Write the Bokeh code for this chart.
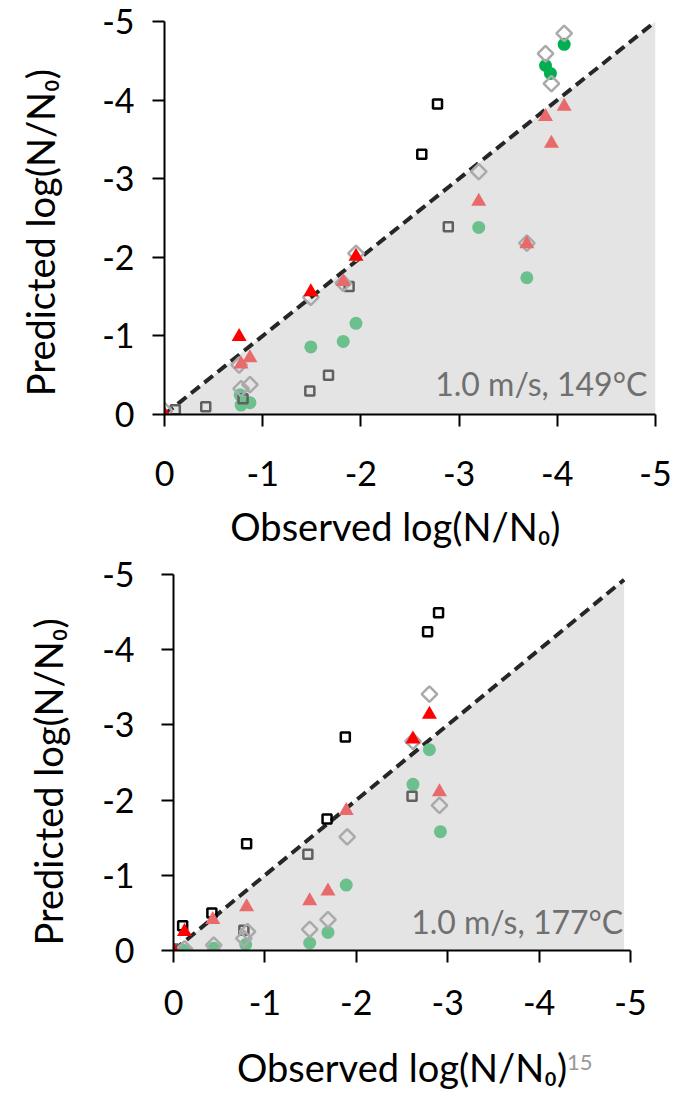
from bokeh.plotting import figure
from bokeh.layouts import column, row
from bokeh.models import Range1d, FixedTicker, Label, Div
from bokeh.embed import file_html
from bokeh.resources import INLINE

TICKS = [0, -1, -2, -3, -4, -5]
TICK_TEXT = ["0", "-1", "-2", "-3", "-4", "-5"]
NB = "\u00a0"
X_TITLE = "Observed log(N/N\u2080)"
Y_TITLE = "Predicted log(N/N\u2080)"

# ---------- Panel A: 1.0 m/s, 149 °C ----------
a_label = "1.0 m/s,  149\u00b0C"
a_diag = [0, -5]
a_blacksq_x = [-2.62, -2.78]
a_blacksq_y = [-3.31, -3.95]
a_graysq_x = [-0.11, -0.42, -0.80, -1.48, -1.67, -1.88, -2.89]
a_graysq_y = [-0.06, -0.10, -0.20, -0.30, -0.50, -1.63, -2.39]
a_diam_x = [0.0, -0.76, -0.78, -0.87, -1.49, -1.82, -1.95, -3.20, -3.69, -3.88, -3.94, -4.07]
a_diam_y = [-0.05, -0.63, -0.33, -0.38, -1.49, -1.67, -2.05, -3.09, -2.18, -4.59, -4.21, -4.85]
a_green_x = [-3.88, -3.93, -4.07]
a_green_y = [-4.44, -4.34, -4.71]
a_pgreen_x = [-0.77, -0.78, -0.87, -1.49, -1.82, -1.95, -3.20, -3.69]
a_pgreen_y = [-0.25, -0.12, -0.15, -0.86, -0.93, -1.16, -2.38, -1.74]
a_red_x = [0.0, -0.76, -1.49, -1.95]
a_red_y = [0.0, -0.99, -1.56, -2.01]
a_salmon_x = [-0.78, -0.87, -1.82, -3.20, -3.69, -3.88, -3.94, -4.07]
a_salmon_y = [-0.64, -0.72, -1.69, -2.71, -2.17, -3.79, -3.45, -3.92]

# ---------- Panel B: 1.0 m/s, 177 °C ----------
b_label = "1.0 m/s,  177\u00b0C"
b_diag = [0, -4.93]
b_blacksq_x = [-0.10, -0.42, -0.80, -1.68, -1.88, -2.78, -2.90]
b_blacksq_y = [-0.33, -0.50, -1.42, -1.75, -2.84, -4.24, -4.49]
b_graysq_x = [0.0, -0.77, -1.47, -2.61]
b_graysq_y = [-0.02, -0.27, -1.28, -2.05]
b_diam_x = [-0.12, -0.44, -0.77, -0.81, -1.49, -1.69, -1.90, -2.62, -2.80, -2.91]
b_diam_y = [-0.02, -0.07, -0.16, -0.25, -0.28, -0.41, -1.51, -2.78, -3.41, -1.93]
b_pgreen_x = [-0.12, -0.44, -0.79, -1.49, -1.69, -1.89, -2.62, -2.80, -2.92]
b_pgreen_y = [0.0, -0.03, -0.08, -0.10, -0.24, -0.87, -2.21, -2.67, -1.58]
b_red_x = [0.0, -0.12, -2.62, -2.80]
b_red_y = [0.0, -0.25, -2.81, -3.14]
b_salmon_x = [-0.43, -0.80, -1.49, -1.69, -1.89, -2.91]
b_salmon_y = [-0.41, -0.58, -0.66, -0.79, -1.86, -2.11]
footnote = "15"

FONT = "Lato"
FS = "34px"
TFS = "38px"


def make_panel(height, borders, diag, label_text, label_pos, series,
               ylab_standoff, ytitle_standoff, xlab_standoff, xtitle_standoff,
               xtitle, ytitle):
    top, bottom, left, right = borders
    p = figure(width=685, height=height, x_range=Range1d(0, -5), y_range=Range1d(0, -5),
               output_backend="svg", toolbar_location=None,
               min_border_top=top, min_border_bottom=bottom,
               min_border_left=left, min_border_right=right)
    p.grid.visible = False
    p.outline_line_color = None
    p.background_fill_color = "white"
    p.border_fill_color = "white"

    # shaded region below identity line
    p.patch([diag[0], diag[1], diag[1]], [diag[0], diag[1], diag[0]],
            fill_color="#e4e4e4", line_color=None)
    p.line(diag, diag, line_color="#262626", line_width=4, line_dash="11 6")

    (bsx, bsy, gsx, gsy, dx, dy, grx, gry, pgx, pgy, rx, ry, sx, sy) = series
    if pgx:
        p.scatter(pgx, pgy, marker="circle", size=13, fill_color="#6cc08e", line_color=None)
    if grx:
        p.scatter(grx, gry, marker="circle", size=13, fill_color="#00b050", line_color=None)
    p.scatter(gsx, gsy, marker="square", size=9, fill_alpha=0, line_color="#606060", line_width=2.5)
    p.scatter(bsx, bsy, marker="square", size=9, fill_alpha=0, line_color="#000000", line_width=2.5)
    p.scatter(dx, dy, marker="square", angle=0.785398, size=11, fill_alpha=0,
              line_color="#aaaaaa", line_width=2.5)
    p.scatter(sx, sy, marker="triangle", size=15, fill_color="#e86a6a", line_color=None)
    p.scatter(rx, ry, marker="triangle", size=15, fill_color="#ff0000", line_color=None)

    for ax in (p.xaxis[0], p.yaxis[0]):
        ax.ticker = FixedTicker(ticks=TICKS)
        ax.major_label_overrides = dict(zip(TICKS, TICK_TEXT))
        ax.axis_line_width = 2
        ax.axis_line_color = "black"
        ax.major_tick_line_width = 2
        ax.major_tick_line_color = "black"
        ax.major_tick_out = 12
        ax.major_tick_in = 0
        ax.minor_tick_line_color = None
        ax.major_label_text_font = FONT
        ax.major_label_text_font_size = FS
        ax.major_label_text_color = "black"
        ax.axis_label_text_font = FONT
        ax.axis_label_text_font_size = TFS
        ax.axis_label_text_font_style = "normal"
        ax.axis_label_text_color = "black"
    p.xaxis[0].axis_label = xtitle
    p.yaxis[0].axis_label = ytitle
    p.xaxis[0].major_label_standoff = xlab_standoff
    p.xaxis[0].axis_label_standoff = xtitle_standoff
    p.yaxis[0].major_label_standoff = ylab_standoff
    p.yaxis[0].axis_label_standoff = ytitle_standoff

    p.add_layout(Label(x=label_pos[0], y=label_pos[1], text=label_text, text_align="right",
                       text_baseline="alphabetic", text_font=FONT, text_font_size="32px",
                       text_color="#707070"))
    return p


pa = make_panel(553, (21, 139, 164, 30), a_diag, a_label, (-5.0, -0.40),
                (a_blacksq_x, a_blacksq_y, a_graysq_x, a_graysq_y, a_diam_x, a_diam_y,
                 a_green_x, a_green_y, a_pgreen_x, a_pgreen_y, a_red_x, a_red_y,
                 a_salmon_x, a_salmon_y), 18, 36, 34, 14,
                X_TITLE + NB * 3, Y_TITLE + NB * 3)

pb = make_panel(541, (21, 144, 173, 55), b_diag, b_label, (-5.01, -0.39),
                (b_blacksq_x, b_blacksq_y, b_graysq_x, b_graysq_y, b_diam_x, b_diam_y,
                 [], [], b_pgreen_x, b_pgreen_y, b_red_x, b_red_y,
                 b_salmon_x, b_salmon_y), 27, 28, 27, 26,
                X_TITLE, Y_TITLE + NB * 4)

note = Div(text=footnote, width=30, height=24,
           styles={"position": "absolute", "left": "562px", "top": "1046px",
                   "font-family": "Lato", "font-size": "22px", "color": "#999999",
                   "line-height": "1"})

layout = column(row(pa), row(pb), note, spacing=0)
open("out.html", "w").write(file_html(layout, INLINE))
